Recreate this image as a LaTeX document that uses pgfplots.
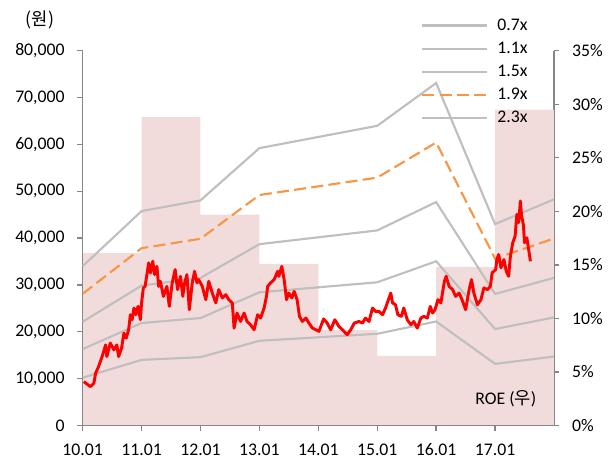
\documentclass[border=0pt]{standalone}
\usepackage{fontspec}
\setmainfont{Carlito}
\newfontfamily\kr{Noto Sans CJK KR}
\usepackage{pgfplots}
\pgfplotsset{compat=1.18}
\definecolor{roe}{RGB}{242,220,219}
\definecolor{band}{RGB}{191,191,191}
\definecolor{bandorange}{RGB}{247,150,70}
\definecolor{axisgray}{RGB}{134,134,134}
\newcommand{\fs}{\fontsize{13.3pt}{16pt}\selectfont}
\begin{document}
\begin{tikzpicture}[font=\fs]
\useasboundingbox (-62pt,-29.6pt) rectangle (397pt,319.1pt);
\pgfplotsset{
  base/.style={width=353.5pt, height=281.1pt, scale only axis, xmin=10, xmax=18,
    /pgf/number format/assume math mode=true,
    tick label style={font=\fs, black},
    axis line style={axisgray, line width=1pt},
    tick style={axisgray, line width=1pt},
    tick align=outside, major tick length=4pt,
    clip=false}
}
\begin{axis}[base, axis y line*=right, axis x line=none,
  ymin=0, ymax=35, ytick={0,5,...,35},
  yticklabel={\pgfmathprintnumber{\tick}\%},
  yticklabel style={xshift=6pt}]
\addplot[ybar interval, fill=roe, draw=none] coordinates {
(10,16.1) (11,28.8) (12,19.7) (13,15.1) (14,8.9) (15,6.5) (16,14.8) (17,29.5) (18,29.5)};
\end{axis}
\begin{axis}[base, axis y line*=left, axis x line*=bottom,
  ymin=0, ymax=80000, ytick={0,10000,...,80000},
  scaled y ticks=false,
  yticklabel style={/pgf/number format/1000 sep={,}, xshift=-6pt},
  xtick={10,11,12,13,14,15,16,17},
  xticklabels={10.01,11.01,12.01,13.01,14.01,15.01,16.01,17.01},
  xticklabel style={yshift=-6pt},
  legend cell align=left,
  legend style={draw=none, fill=none, inner sep=0pt, font=\fs,
    at={(rel axis cs:0.7178,1.086)}, anchor=north west,
    row sep=7.3pt, nodes={inner sep=0pt}},
  legend image code/.code={\draw[#1] (0pt,0pt) -- (48.75pt,0pt); \path (55.5pt,0pt);}
  ]
\addplot[band, line width=1.6pt] coordinates {
(10,10200) (11,14000) (12,14580) (13,18070) (15,19570) (16,22200) (17,13150) (18,14710)};
\addlegendentry{0.7x}
\addplot[band, line width=1.6pt] coordinates {
(10,16300) (11,21860) (12,22930) (13,28420) (15,30560) (16,35050) (17,20580) (18,23060)};
\addlegendentry{1.1x}
\addplot[band, line width=1.6pt] coordinates {
(10,22140) (11,29850) (12,31500) (13,38700) (15,41630) (16,47690) (17,28070) (18,31500)};
\addlegendentry{1.5x}
\addplot[bandorange, line width=1.6pt, dash pattern=on 9pt off 4pt] coordinates {
(10,28100) (11,37840) (12,39850) (13,49190) (15,52900) (16,60400) (17,35630) (18,39910)};
\addlegendentry{1.9x}
\addplot[band, line width=1.6pt] coordinates {
(10,34000) (11,45760) (12,48050) (13,59200) (15,63960) (16,73100) (17,42980) (18,48270)};
\addlegendentry{2.3x}
\addplot[red, line width=2.2pt, line join=round, forget plot] coordinates {
(10.02,9360) (10.13,8290) (10.19,9000) (10.22,11160) (10.27,12570) (10.33,14700)
(10.39,17200) (10.41,14700) (10.47,17580) (10.53,16150) (10.58,17200) (10.61,14700)
(10.66,16500) (10.70,19720) (10.74,18650) (10.78,20430) (10.81,23640) (10.84,22570)
(10.87,25070) (10.90,23640) (10.94,25420) (10.98,22570) (11.00,26150) (11.03,29360)
(11.06,29700) (11.12,34710) (11.15,32570) (11.19,35050) (11.22,32200) (11.26,33980)
(11.29,29700) (11.32,30770) (11.37,27560) (11.43,29700) (11.47,25420) (11.52,30430)
(11.57,33280) (11.61,29000) (11.66,31840) (11.70,27560) (11.73,30430) (11.77,32200)
(11.81,24710) (11.86,30430) (11.90,32910) (11.94,30430) (11.97,31140) (12.03,29700)
(12.09,26850) (12.14,30770) (12.20,28280) (12.26,26150) (12.31,29000) (12.37,27210)
(12.43,27920) (12.48,26850) (12.54,26150) (12.57,20790) (12.62,24000) (12.68,22200)
(12.74,24000) (12.79,22200) (12.85,21500) (12.91,20430) (12.97,23640) (13.02,22930)
(13.08,25070) (13.12,27560) (13.14,29700) (13.19,30430) (13.25,31140) (13.31,32910)
(13.33,31840) (13.38,33980) (13.42,31140) (13.46,26850) (13.50,28280) (13.55,27210)
(13.59,28630) (13.64,26850) (13.68,23280) (13.73,22200) (13.79,22930) (13.84,21860)
(13.90,20790) (13.96,20430) (14.01,20080) (14.09,22750) (14.15,21860) (14.21,20430)
(14.28,22570) (14.35,21140) (14.41,20430) (14.49,19360) (14.55,20430) (14.61,21860)
(14.69,22200) (14.75,21860) (14.80,22930) (14.86,22200) (14.92,25070) (14.97,24350)
(15.03,24350) (15.09,23640) (15.14,25070) (15.18,26490) (15.23,28280) (15.26,26150)
(15.31,25780) (15.35,23640) (15.41,23280) (15.45,25070) (15.51,22570) (15.57,21500)
(15.62,22200) (15.68,20790) (15.74,22930) (15.79,23280) (15.85,22930) (15.90,25420)
(15.94,24000) (15.98,24700) (16.03,26850) (16.08,26150) (16.14,30770) (16.17,31840)
(16.22,29700) (16.28,29000) (16.33,27560) (16.39,28280) (16.45,26490) (16.50,24710)
(16.56,29000) (16.60,31140) (16.64,28280) (16.70,25780) (16.76,26850) (16.81,29360)
(16.87,29000) (16.92,29700) (16.95,32570) (17.01,33280) (17.03,35420) (17.06,36490)
(17.10,33640) (17.15,35420) (17.19,32910) (17.23,31840) (17.26,36120) (17.30,38990)
(17.34,40410) (17.37,45050) (17.40,43280) (17.43,47900) (17.45,44690) (17.48,42910)
(17.50,38990) (17.54,40060) (17.57,37560) (17.60,35050)};
\node[font={\fs\kr}] at (rel axis cs:-0.0906,1.082) {(원)};
\node at (rel axis cs:0.898,0.0707) {ROE ({\kr 우})};
\end{axis}
\end{tikzpicture}
\end{document}
